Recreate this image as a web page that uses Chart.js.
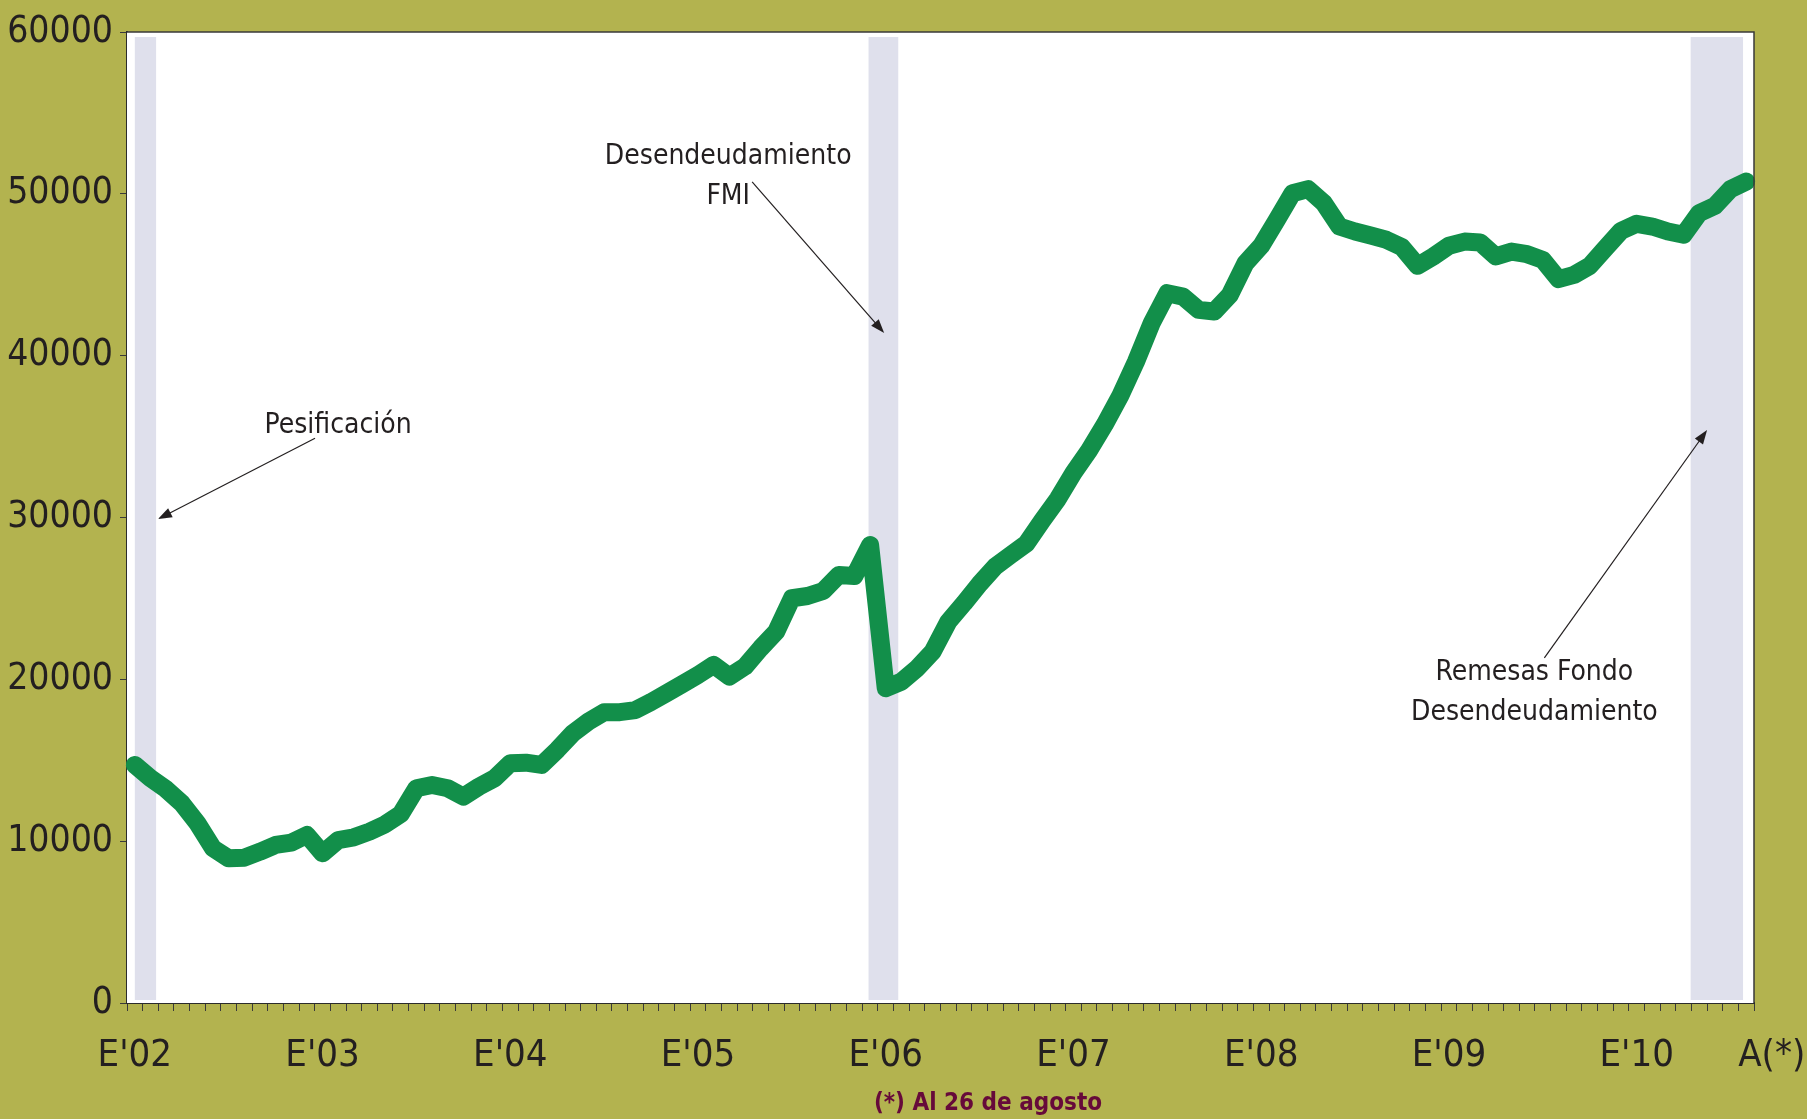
<!DOCTYPE html>
<html>
<head>
<meta charset="utf-8">
<script src="https://cdn.jsdelivr.net/npm/chart.js@4.4.0/dist/chart.umd.min.js"></script>
<style>
    html, body { margin: 0; padding: 0; background: #b3b34f; }
    #wrap { width: 1807px; height: 1119px; }
</style>
</head>
<body>
<div id="wrap"><canvas id="reservas" width="1807" height="1119"></canvas></div>
<script>
// months from Jan 2002 to Aug 2010
const months = [];
for (let y = 2002; y <= 2010; y++) {
    for (let m = 1; m <= 12; m++) {
        if (y === 2010 && m > 8) break;
        months.push(y + '-' + String(m).padStart(2, '0'));
    }
}

const yearLabels = ["E'02", "E'03", "E'04", "E'05", "E'06", "E'07", "E'08", "E'09", "E'10"];
const lastLabel = 'A(*)';

const reserves = [
    14710, 13890, 13210, 12340, 11110, 9560, 8940, 8980, 9350, 9770, 9910, 10380,
    9250, 10070, 10240, 10590, 11040, 11680, 13270, 13470, 13270, 12750, 13370, 13890,
    14810, 14850, 14710, 15640, 16670, 17390, 17960, 17970, 18100, 18600, 19150, 19700,
    20270, 20890, 20170, 20790, 21920, 22950, 25010, 25150, 25460, 26450, 26390, 28300,
    19450, 19860, 20680, 21710, 23560, 24700, 25900, 26970, 27690, 28400, 29800, 31150,
    32760, 34150, 35750, 37540, 39640, 42010, 43860, 43650, 42830, 42730, 43760, 45720,
    46790, 48390, 50040, 50290, 49430, 47980, 47670, 47420, 47160, 46700, 45550, 46130,
    46790, 47050, 46990, 46130, 46430, 46270, 45920, 44730, 44990, 45550, 46640, 47710,
    48150, 47980, 47670, 47470, 48810, 49260, 50290, 50760
];

// shaded periods, in month-index units
const bandStart = [0.0, 46.9, 99.45];
const bandEnd = [1.36, 48.8, 102.8];

const notes = [
    { lines: ['Pesificación'], text: [12.99, 35700], from: [11.52, 34900], to: [1.48, 29900] },
    { lines: ['Desendeudamiento', 'FMI'], text: [37.93, 52280], from: [39.46, 50740], to: [47.9, 41400] },
    { lines: ['Remesas Fondo', 'Desendeudamiento'], text: [89.46, 20400], from: [90.1, 21320], to: [100.5, 35400] }
];

const FONT = "'DejaVu Sans Condensed', 'Liberation Sans', sans-serif";
const INK = '#231f20';

function arrow(ctx, x1, y1, x2, y2) {
    const ang = Math.atan2(y2 - y1, x2 - x1);
    const len = 14, half = 5;
    ctx.beginPath();
    ctx.moveTo(x1, y1);
    ctx.lineTo(x2 - Math.cos(ang) * len * 0.8, y2 - Math.sin(ang) * len * 0.8);
    ctx.stroke();
    ctx.beginPath();
    ctx.moveTo(x2, y2);
    ctx.lineTo(x2 - Math.cos(ang) * len - Math.sin(ang) * half, y2 - Math.sin(ang) * len + Math.cos(ang) * half);
    ctx.lineTo(x2 - Math.cos(ang) * len + Math.sin(ang) * half, y2 - Math.sin(ang) * len - Math.cos(ang) * half);
    ctx.closePath();
    ctx.fill();
}

const decorPlugin = {
    id: 'decor',
    beforeDatasetsDraw(chart) {
        const { ctx, chartArea: a, scales: { x } } = chart;
        ctx.save();
        ctx.fillStyle = '#ffffff';
        ctx.fillRect(a.left, a.top, a.right - a.left, a.bottom - a.top);
        ctx.fillStyle = '#dfe0ec';
        for (let i = 0; i < bandStart.length; i++) {
            const x1 = x.getPixelForValue(bandStart[i]);
            const x2 = x.getPixelForValue(bandEnd[i]);
            ctx.fillRect(x1, a.top + 5, x2 - x1, a.bottom - a.top - 8);
        }
        ctx.restore();
    },
    afterDatasetsDraw(chart) {
        const { ctx, chartArea: a, scales: { x, y } } = chart;
        ctx.save();
        // frame top and right
        ctx.strokeStyle = '#3a3a3a';
        ctx.lineWidth = 1.5;
        ctx.beginPath();
        ctx.moveTo(a.left, a.top);
        ctx.lineTo(a.right, a.top);
        ctx.lineTo(a.right, a.bottom);
        ctx.stroke();

        ctx.strokeStyle = INK;
        ctx.fillStyle = INK;
        ctx.lineWidth = 1.2;
        ctx.font = '28px ' + FONT;
        ctx.textAlign = 'center';
        ctx.textBaseline = 'middle';
        notes.forEach(n => {
            arrow(ctx, x.getPixelForValue(n.from[0]), y.getPixelForValue(n.from[1]),
                x.getPixelForValue(n.to[0]), y.getPixelForValue(n.to[1]));
            const tx = x.getPixelForValue(n.text[0]);
            const ty = y.getPixelForValue(n.text[1]);
            n.lines.forEach((line, k) => ctx.fillText(line, tx, ty + k * 40));
        });

        // footnote
        ctx.fillStyle = '#660a3a';
        ctx.font = 'bold 24px ' + FONT;
        ctx.fillText('(*) Al 26 de agosto', 988, 1104);
        ctx.restore();
    }
};

const chart = new Chart(document.getElementById('reservas'), {
    type: 'line',
    data: {
        labels: months,
        datasets: [{
            data: reserves,
            borderColor: '#128f4a',
            borderWidth: 18,
            borderCapStyle: 'round',
            borderJoinStyle: 'round',
            pointRadius: 0,
            tension: 0,
            fill: false
        }]
    },
    options: {
        responsive: false,
        animation: false,
        layout: { autoPadding: false, padding: { left: 0, right: 53, top: 32, bottom: 0 } },
        plugins: {
            legend: { display: false },
            tooltip: { enabled: false }
        },
        scales: {
            x: {
                type: 'category',
                offset: true,
                grid: {
                    offset: true,
                    drawOnChartArea: false,
                    drawTicks: true,
                    tickLength: 8,
                    color: '#3a3a3a',
                    lineWidth: 1
                },
                border: { display: true, color: '#2b2b2b', width: 2 },
                ticks: {
                    autoSkip: false,
                    maxRotation: 0,
                    minRotation: 0,
                    padding: 22,
                    color: INK,
                    font: { family: FONT, size: 38 },
                    callback: function(val, idx) {
                        if (idx % 12 === 0) return yearLabels[idx / 12];
                        if (idx === months.length - 1) return '\u2003\u2002' + lastLabel;
                        return '';
                    }
                },
                afterFit: function(scale) {
                    scale.height = 116;
                    scale.paddingLeft = 0;
                    scale.paddingRight = 0;
                }
            },
            y: {
                min: 0,
                max: 60000,
                grid: {
                    drawOnChartArea: false,
                    drawTicks: true,
                    tickLength: 7,
                    color: '#3a3a3a',
                    lineWidth: 1
                },
                border: { display: true, color: '#2b2b2b', width: 2 },
                ticks: {
                    stepSize: 10000,
                    padding: 7,
                    color: INK,
                    font: { family: FONT, size: 37 },
                    callback: v => String(v)
                },
                afterFit: function(scale) { scale.width = 127; }
            }
        }
    },
    plugins: [decorPlugin]
});
</script>
</body>
</html>
